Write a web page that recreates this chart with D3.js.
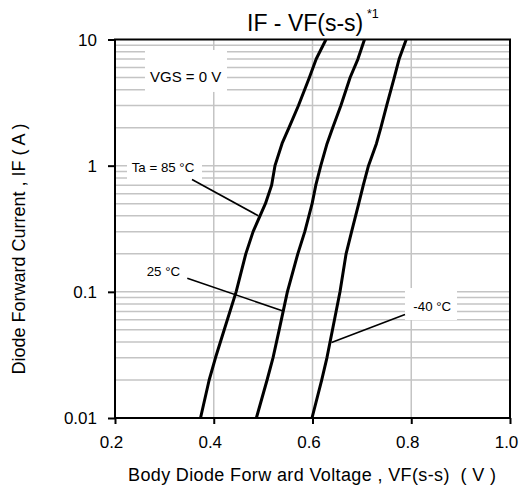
<!DOCTYPE html>
<html><head><meta charset="utf-8">
<script src="https://cdn.jsdelivr.net/npm/d3@7"></script>
<style>
html,body{margin:0;padding:0;background:#fff;}
text{font-family:"Liberation Sans",Arial,sans-serif;fill:#000;}
</style></head>
<body>
<svg id="chart" width="521" height="489"></svg>
<script>
// ---- data ----
const currents = [0.01, 0.02, 0.03, 0.05, 0.1, 0.2, 0.3, 0.5, 0.7, 1, 1.5, 2, 3, 5, 7, 10];
const vf85  = [0.3732, 0.3907, 0.4035, 0.4212, 0.4453, 0.4649, 0.4797, 0.5046, 0.5172, 0.5240, 0.5384, 0.5524, 0.5716, 0.5937, 0.6075, 0.6273];
const vf25  = [0.4863, 0.5080, 0.5200, 0.5325, 0.5491, 0.5702, 0.5844, 0.5992, 0.6067, 0.6168, 0.6296, 0.6409, 0.6575, 0.6762, 0.6920, 0.7053];
const vfM40 = [0.5990, 0.6186, 0.6292, 0.6405, 0.6557, 0.6680, 0.6792, 0.6936, 0.7029, 0.7134, 0.7296, 0.7385, 0.7503, 0.7657, 0.7754, 0.7898];
const xTicks = [0.2, 0.4, 0.6, 0.8, 1.0];
const xTickLabels = ["0.2", "0.4", "0.6", "0.8", "1.0"];
const yTicks = [0.01, 0.1, 1, 10];
const yTickLabels = ["0.01", "0.1", "1", "10"];
const labelTexts = ["VGS = 0 V", "Ta = 85 \u00B0C", "25 \u00B0C", "-40 \u00B0C"];
// annotation placement in data units: box [v0, v1, iTop, iBottom], text anchor [v, i], leader [v0,i0,v1,i1]
const labelBoxes = [[0.2607, 0.4268, 8.26, 3.84], [0.2243, 0.3762, 1.215, 0.756], [0.2506, 0.3458, 0.1888, 0.1153], [0.7873, 0.8927, 0.1072, 0.0598]];
const labelAnchors = [[0.2709, 4.63], [0.2338, 0.896], [0.2642, 0.1335], [0.8042, 0.07]];
const leaders = [null, [0.356, 0.777, 0.4902, 0.401], [0.3464, 0.128, 0.5388, 0.0709], [0.7873, 0.0661, 0.6385, 0.0397]];
const labelSizes = [15, 13.3, 13.3, 13.3];

// ---- scales ----
const svg = d3.select("#chart");
const x = d3.scaleLinear().domain([0.2, 1.0]).range([115, 510]);
const y = d3.scaleLog().domain([0.01, 10]).range([418, 39.5]);

// grid
const minor = [];
for (let e = -2; e < 1; e++) for (let k = 2; k <= 9; k++) minor.push(k * Math.pow(10, e));
const grid = svg.append("g").attr("stroke", "#c4c4c4").attr("stroke-width", 1.5);
grid.selectAll("line.h").data(minor.concat([0.1, 1])).enter().append("line")
  .attr("x1", x(0.2)).attr("x2", x(1.0)).attr("y1", d => y(d)).attr("y2", d => y(d));
grid.selectAll("line.v").data([0.4, 0.6, 0.8]).enter().append("line")
  .attr("y1", y(0.01)).attr("y2", y(10)).attr("x1", d => x(d)).attr("x2", d => x(d));

// label boxes (white)
svg.append("g").selectAll("rect").data(labelBoxes).enter().append("rect")
  .attr("x", d => x(d[0])).attr("width", d => x(d[1]) - x(d[0]))
  .attr("y", d => y(d[2])).attr("height", d => y(d[3]) - y(d[2]))
  .attr("fill", "#fff");

// frame
svg.append("rect").attr("x", x(0.2)).attr("y", y(10)).attr("width", x(1.0) - x(0.2)).attr("height", y(0.01) - y(10))
  .attr("fill", "none").attr("stroke", "#000").attr("stroke-width", 2);

// axes
const xAxis = d3.axisBottom(x).tickValues(xTicks).tickSize(6).tickFormat((d, i) => xTickLabels[i]);
const gx = svg.append("g").attr("transform", `translate(0,${y(0.01)})`).call(xAxis);
gx.select(".domain").remove();
gx.selectAll("line").attr("stroke", "#000").attr("stroke-width", 2);
gx.selectAll("text").attr("font-size", 17).attr("y", 0).attr("dy", null).attr("dx", -4)
  .attr("transform", "translate(0,30)").style("font-family", "Liberation Sans, Arial, sans-serif");

const yAxis = d3.axisLeft(y).tickValues(yTicks).tickSize(7).tickFormat((d, i) => yTickLabels[yTicks.indexOf(d)]);
const gy = svg.append("g").attr("transform", `translate(${x(0.2)},0)`).call(yAxis);
gy.select(".domain").remove();
gy.selectAll("line").attr("stroke", "#000").attr("stroke-width", 2);
gy.selectAll("text").attr("font-size", 17).attr("x", -18).attr("dy", "0.35em")
  .style("font-family", "Liberation Sans, Arial, sans-serif");

// curves
const line = d3.line().x(d => x(d[0])).y(d => y(d[1])).curve(d3.curveLinear);
[vf85, vf25, vfM40].forEach(vs => {
  svg.append("path").datum(vs.map((v, i) => [v, currents[i]]))
    .attr("d", line).attr("fill", "none").attr("stroke", "#000").attr("stroke-width", 3)
    .attr("stroke-linejoin", "round");
});

// leader lines
svg.append("g").selectAll("line").data(leaders.filter(d => d)).enter().append("line")
  .attr("x1", d => x(d[0])).attr("y1", d => y(d[1])).attr("x2", d => x(d[2])).attr("y2", d => y(d[3]))
  .attr("stroke", "#000").attr("stroke-width", 1.6);

// label texts
svg.append("g").selectAll("text").data(labelTexts).enter().append("text")
  .attr("x", (d, i) => x(labelAnchors[i][0])).attr("y", (d, i) => y(labelAnchors[i][1]))
  .attr("font-size", (d, i) => labelSizes[i]).text(d => d);

// titles
svg.append("text").attr("x", 247).attr("y", 31).attr("font-size", 23).text("IF - VF(s-s)");
svg.append("text").attr("x", 367).attr("y", 18).attr("font-size", 12.5).text("*1");
svg.append("text").attr("x", 128).attr("y", 481).attr("font-size", 18)
  .attr("textLength", 368).attr("lengthAdjust", "spacing").style("white-space", "pre")
  .text("Body Diode Forw ard Voltage , VF(s-s)  ( V )");
svg.append("text").attr("transform", "translate(25,249) rotate(-90)").attr("text-anchor", "middle")
  .attr("font-size", 18).text("Diode Forward Current , IF ( A )");
</script>
</body></html>
